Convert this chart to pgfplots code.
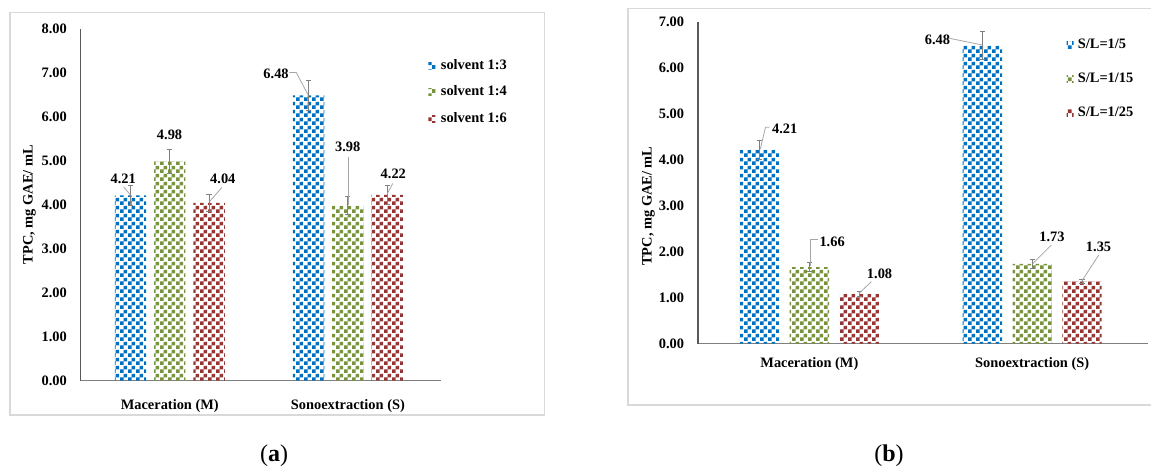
\documentclass[border=0pt]{standalone}
\usepackage{pgfplots}
\pgfplotsset{compat=1.18}
\usepackage{fontspec}
\setmainfont{Liberation Serif}
\usetikzlibrary{patterns}

\definecolor{cblue}{RGB}{0,112,192}
\definecolor{cgreen}{RGB}{119,147,60}
\definecolor{cred}{RGB}{150,54,52}
\definecolor{framegray}{RGB}{217,217,217}

% large checker board fill used for every bar
\pgfdeclarepatternformonly{checker}{\pgfpointorigin}{\pgfqpoint{4pt}{4pt}}{\pgfqpoint{4pt}{4pt}}{%
  \pgfpathrectangle{\pgfpointorigin}{\pgfqpoint{2pt}{2pt}}%
  \pgfpathrectangle{\pgfqpoint{2pt}{2pt}}{\pgfqpoint{2pt}{2pt}}%
  \pgfusepath{fill}%
}

\newcommand{\lbl}{\fontsize{7.2}{8.6}\selectfont\bfseries}

\tikzset{
  dl/.style={font=\lbl, inner sep=0pt, text height=4.9pt, text depth=0pt, anchor=center},
  leader/.style={draw=black!35, line width=0.4pt},
}

\pgfplotsset{
  checklegend/.style={legend image code/.code={\path[##1] (0pt,-1.75pt) rectangle (3.5pt,1.75pt);}},
  sblue/.style={draw=none, pattern=checker, pattern color=cblue, checklegend},
  sgreen/.style={draw=none, pattern=checker, pattern color=cgreen, checklegend},
  sred/.style={draw=none, pattern=checker, pattern color=cred, checklegend},
  tpcbars/.style={
    scale only axis, clip=false,
    xmin=0.5, xmax=2.52, ymin=0,
    xtick={1,2}, xticklabels={Maceration (M),Sonoextraction (S)},
    axis x line*=bottom, axis y line*=left,
    axis line style={-},
    x axis line style={draw=black!50, line width=0.6pt},
    y axis line style={draw=black!65, line width=0.6pt},
    major tick length=0pt,
    ytick distance=1,
    tick label style={font=\lbl},
    yticklabel style={xshift=-3.4pt, /pgf/number format/.cd, fixed, fixed zerofill, precision=2, assume math mode=true},
    label style={font=\lbl},
    ylabel={TPC, mg GAE/ mL},
    every axis plot/.append style={
      /pgfplots/error bars/y dir=both,
      /pgfplots/error bars/y explicit,
      /pgfplots/error bars/error bar style={black!50, line width=0.4pt},
      /pgfplots/error bars/error mark options={black!50, rotate=90, mark size=1.3pt, line width=0.4pt},
    },
    legend style={draw=none, fill=none, anchor=north west, font=\lbl, inner sep=0pt,
      cells={anchor=west}, nodes={inner sep=0pt, text height=5pt, text depth=1.5pt}},
  },
}

\begin{document}
\begin{tikzpicture}
\useasboundingbox (0,0) rectangle (575.5pt,234pt);

% panel frames
\draw[framegray, line width=0.75pt] (5pt,26.5pt) rectangle (272.3pt,227.65pt);
\draw[framegray, line width=0.75pt] (576pt,229.85pt) -- (313.9pt,229.85pt) -- (313.9pt,31.5pt) -- (576pt,31.5pt);

% (a) solvent ratio
\begin{axis}[tpcbars,
  at={(40.35pt,43.75pt)}, anchor=south west,
  width=179.9pt, height=176pt, ymax=8,
  ybar=3.95pt, bar width=15.7pt,
  xticklabel style={yshift=-6pt},
  ylabel style={at={(axis description cs:-0.1426,0.5)}, anchor=center},
  legend style={at={(axis description cs:0.965,0.913)}, row sep=6.7pt, column sep=2.8pt},
]
\addplot[sblue]  coordinates {(1,4.21) +- (0,0.22) (2,6.48) +- (0,0.33)};
\addplot[sgreen] coordinates {(1,4.98) +- (0,0.28) (2,3.98) +- (0,0.20)};
\addplot[sred]   coordinates {(1,4.04) +- (0,0.20) (2,4.22) +- (0,0.21)};
\legend{solvent 1:3, solvent 1:4, solvent 1:6}

\draw[leader] (axis cs:0.741,4.40) -- (axis cs:0.779,4.22);
\draw[leader] (axis cs:1.293,4.39) -- (axis cs:1.222,4.06);
\draw[leader] (axis cs:1.672,7.00) -- (axis cs:1.710,7.00) -- (axis cs:1.776,6.50);
\draw[leader] (axis cs:2.002,5.09) -- (axis cs:2.002,3.99);
\draw[leader] (axis cs:2.252,4.48) -- (axis cs:2.219,4.23);
\node[dl] at (axis cs:0.739,4.595) {4.21};
\node[dl] at (axis cs:0.999,5.60) {4.98};
\node[dl] at (axis cs:1.298,4.595) {4.04};
\node[dl] at (axis cs:1.597,6.98) {6.48};
\node[dl] at (axis cs:1.999,5.31) {3.98};
\node[dl] at (axis cs:2.255,4.71) {4.22};
\end{axis}

% (b) solid to liquid ratio
\begin{axis}[tpcbars,
  at={(349pt,62.25pt)}, anchor=south west,
  width=225pt, height=161pt, ymax=7,
  ybar=5.25pt, bar width=19.65pt,
  xticklabel style={yshift=-3.4pt},
  ylabel style={at={(axis description cs:-0.11,0.427)}, anchor=center},
  legend style={at={(axis description cs:0.818,0.948)}, row sep=10.35pt, column sep=2.2pt},
]
\addplot[sblue]  coordinates {(1,4.21) +- (0,0.20) (2,6.48) +- (0,0.31)};
\addplot[sgreen] coordinates {(1,1.66) +- (0,0.10) (2,1.73) +- (0,0.09)};
\addplot[sred]   coordinates {(1,1.08) +- (0,0.06) (2,1.35) +- (0,0.05)};
\legend{S/L=1/5, S/L=1/15, S/L=1/25}

\draw[leader] (axis cs:0.821,4.70) -- (axis cs:0.803,4.70) -- (axis cs:0.779,4.22);
\draw[leader] (axis cs:1.038,2.27) -- (axis cs:1.004,2.27) -- (axis cs:1.004,1.68);
\draw[leader] (axis cs:1.278,1.343) -- (axis cs:1.223,1.09);
\draw[leader] (axis cs:1.629,6.635) -- (axis cs:1.776,6.49);
\draw[leader] (axis cs:2.086,2.14) -- (axis cs:2.003,1.74);
\draw[leader] (axis cs:2.299,1.924) -- (axis cs:2.223,1.36);
\node[dl] at (axis cs:0.889,4.68) {4.21};
\node[dl] at (axis cs:1.102,2.21) {1.66};
\node[dl] at (axis cs:1.315,1.526) {1.08};
\node[dl] at (axis cs:1.575,6.61) {6.48};
\node[dl] at (axis cs:2.089,2.32) {1.73};
\node[dl] at (axis cs:2.298,2.10) {1.35};
\end{axis}

% panel captions
\node[font=\fontsize{12}{14}\selectfont] at (137pt,6pt) {(\textbf{a})};
\node[font=\fontsize{12}{14}\selectfont] at (444.5pt,6pt) {(\textbf{b})};
\end{tikzpicture}
\end{document}
